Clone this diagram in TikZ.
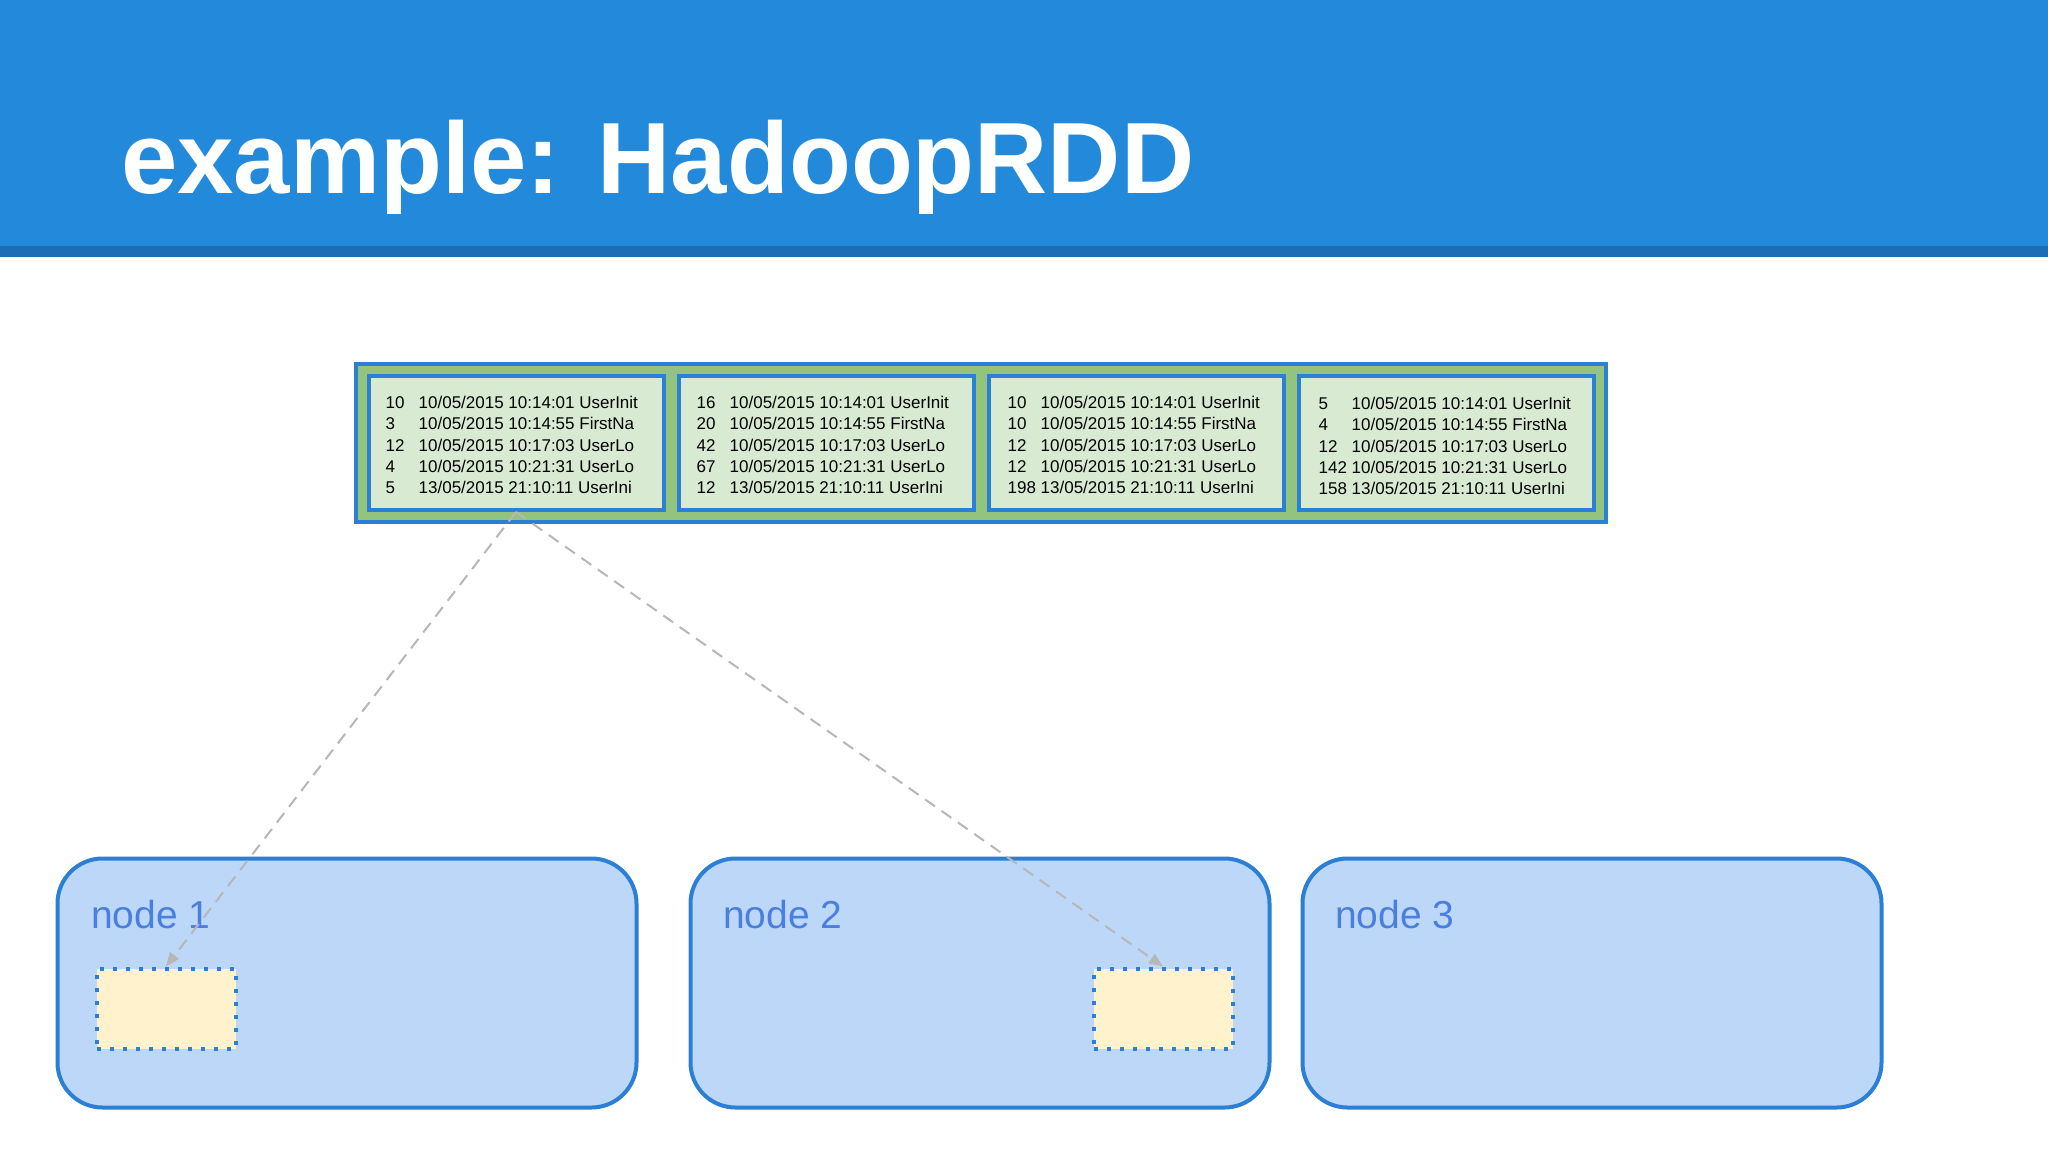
\documentclass[tikz,border=0pt]{standalone}
\usepackage{fontspec}
\setmainfont{Liberation Sans}
\usetikzlibrary{arrows.meta,calc}
\definecolor{headerblue}{HTML}{2389DB}
\definecolor{stripeblue}{HTML}{1C6DB5}
\definecolor{borderblue}{HTML}{2B7FD4}
\definecolor{rddgreen}{HTML}{93C47D}
\definecolor{partgreen}{HTML}{D9EAD3}
\definecolor{nodefill}{HTML}{BCD7F7}
\definecolor{labelblue}{HTML}{4A7FE0}
\definecolor{blockyellow}{HTML}{FFF2CC}
\definecolor{arrowgray}{HTML}{B7B7B7}
\newcommand{\rw}[2]{\makebox[33pt][l]{#1}#2}
\begin{document}
\begin{tikzpicture}[x=1pt,y=-1pt,
  rddbox/.style={draw=borderblue, line width=4pt, fill=rddgreen, inner sep=0pt},
  partbox/.style={draw=borderblue, line width=4pt, fill=partgreen, inner sep=0pt,
                  minimum width=295pt, minimum height=134pt},
  parttext/.style={anchor=north west, inner sep=0pt, align=left,
                   font=\fontsize{17}{21.25}\selectfont, text=black},
  machine/.style={draw=borderblue, line width=4pt, fill=nodefill, rounded corners=45pt,
                  minimum width=579pt, minimum height=249pt, inner sep=0pt},
  machinelabel/.style={anchor=base west, inner sep=0pt, text=labelblue,
                       font=\fontsize{39}{45}\selectfont},
  block/.style={draw=borderblue, line width=4pt, dash pattern=on 4pt off 9pt,
                fill=blockyellow, minimum width=139pt, minimum height=80pt, inner sep=0pt},
  fetch/.style={draw=arrowgray, line width=2pt, dash pattern=on 12pt off 8pt,
                -{Triangle[length=14pt,width=11pt,fill=arrowgray]}}
]
\useasboundingbox (0,0) rectangle (2048,1152);
\fill[white] (0,0) rectangle (2048,1152);
\fill[headerblue] (0,0) rectangle (2048,246);
\fill[stripeblue] (0,246) rectangle (2048,257);
\node[anchor=base west, inner sep=0pt, text=white,
      font=\fontsize{101.3}{110}\selectfont\bfseries] (title) at (121,193) {example: HadoopRDD};

% RDD with four partitions
\node[rddbox, minimum width=1250pt, minimum height=158pt] (rdd) at (981,443) {};
\node[partbox] (p1) at (516,443) {};
\node[partbox] (p2) at (826,443) {};
\node[partbox] (p3) at (1136,443) {};
\node[partbox] (p4) at (1446,443) {};

\node[parttext] (t1) at ($(p1.north west)+(19,22)$) {%
\rw{10}{10/05/2015 10:14:01 UserInit}\\
\rw{3}{10/05/2015 10:14:55 FirstNa}\\
\rw{12}{10/05/2015 10:17:03 UserLo}\\
\rw{4}{10/05/2015 10:21:31 UserLo}\\
\rw{5}{13/05/2015 21:10:11 UserIni}};
\node[parttext] (t2) at ($(p2.north west)+(20,22)$) {%
\rw{16}{10/05/2015 10:14:01 UserInit}\\
\rw{20}{10/05/2015 10:14:55 FirstNa}\\
\rw{42}{10/05/2015 10:17:03 UserLo}\\
\rw{67}{10/05/2015 10:21:31 UserLo}\\
\rw{12}{13/05/2015 21:10:11 UserIni}};
\node[parttext] (t3) at ($(p3.north west)+(21,22)$) {%
\rw{10}{10/05/2015 10:14:01 UserInit}\\
\rw{10}{10/05/2015 10:14:55 FirstNa}\\
\rw{12}{10/05/2015 10:17:03 UserLo}\\
\rw{12}{10/05/2015 10:21:31 UserLo}\\
\rw{198}{13/05/2015 21:10:11 UserIni}};
\node[parttext] (t4) at ($(p4.north west)+(22,23)$) {%
\rw{5}{10/05/2015 10:14:01 UserInit}\\
\rw{4}{10/05/2015 10:14:55 FirstNa}\\
\rw{12}{10/05/2015 10:17:03 UserLo}\\
\rw{142}{10/05/2015 10:21:31 UserLo}\\
\rw{158}{13/05/2015 21:10:11 UserIni}};

% cluster nodes
\node[machine] (n1) at (347,983) {};
\node[machine] (n2) at (980,983) {};
\node[machine] (n3) at (1592,983) {};
\node[machinelabel] (l1) at (91,928) {node 1};
\node[machinelabel] (l2) at (723,928) {node 2};
\node[machinelabel] (l3) at (1335,928) {node 3};

\node[block] (b1) at (166,1008.5) {};
\node[block] (b2) at (1163,1008.5) {};

\draw[fetch] (p1.south) -- (b1.north);
\draw[fetch] (p1.south) -- (b2.north);
\end{tikzpicture}
\end{document}
